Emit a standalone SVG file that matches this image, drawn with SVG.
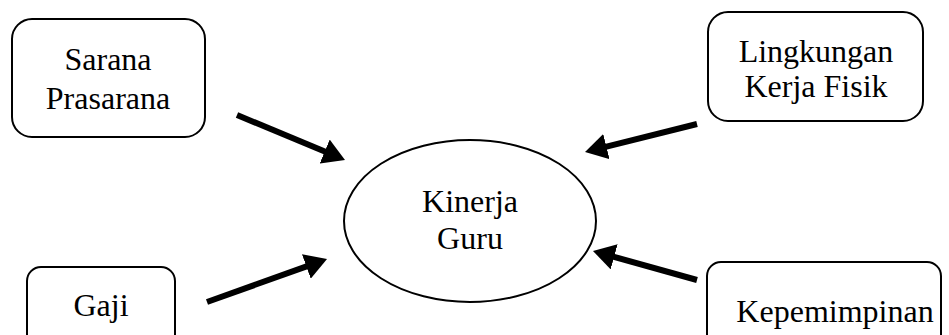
<svg xmlns="http://www.w3.org/2000/svg" width="949" height="335" viewBox="0 0 949 335">
<style>
.box{fill:#fff;stroke:#000;stroke-width:2}
.t{font-family:"Liberation Serif","Times New Roman",serif;font-size:32px;text-anchor:middle;fill:#000}
.c{stroke:#000;stroke-width:6;fill:none}
</style>
<defs>
<marker id="ah" viewBox="0 0 22 26" markerWidth="22" markerHeight="26" markerUnits="userSpaceOnUse" refX="4" refY="13" orient="auto">
<path d="M0,0 L22,13 L0,26 z" fill="#000"/>
</marker>
</defs>
<rect width="949" height="335" fill="#fff"/>
<g id="sarana">
<rect class="box" x="12" y="19" width="193" height="118" rx="20"/>
<text class="t" x="108" y="70">Sarana</text>
<text class="t" x="108" y="109">Prasarana</text>
</g>
<g id="lingkungan">
<rect class="box" x="708" y="12" width="215" height="109" rx="20"/>
<text class="t" x="816" y="62">Lingkungan</text>
<text class="t" x="816" y="97">Kerja Fisik</text>
</g>
<g id="gaji">
<rect class="box" x="27" y="267" width="148" height="90" rx="14"/>
<text class="t" x="101" y="316">Gaji</text>
</g>
<g id="kepemimpinan">
<rect class="box" x="707" y="262" width="234" height="95" rx="14"/>
<text class="t" x="835" y="322">Kepemimpinan</text>
</g>
<g id="kinerja">
<ellipse class="box" cx="470" cy="221" rx="126" ry="81"/>
<text class="t" x="470" y="212">Kinerja</text>
<text class="t" x="470" y="249">Guru</text>
</g>
<g id="connectors">
<line class="c" x1="237" y1="115" x2="328.4" y2="153.1" marker-end="url(#ah)"/>
<line class="c" x1="697" y1="124" x2="602.5" y2="147.6" marker-end="url(#ah)"/>
<line class="c" x1="207" y1="302" x2="310.1" y2="265.1" marker-end="url(#ah)"/>
<line class="c" x1="697" y1="280" x2="610.3" y2="255.8" marker-end="url(#ah)"/>
</g>
</svg>
